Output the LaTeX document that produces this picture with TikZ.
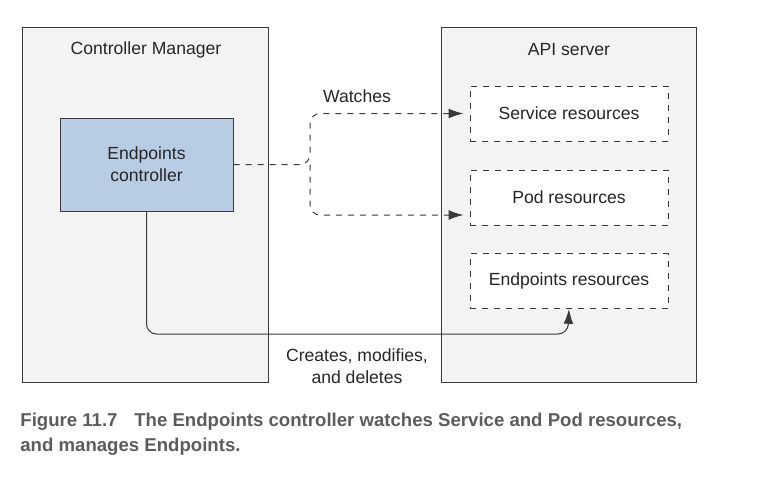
\documentclass[tikz,border=0pt]{standalone}
\usepackage{fontspec}
\setmainfont{Liberation Sans}
\usetikzlibrary{arrows.meta}

\definecolor{boxgrey}{HTML}{F3F3F3}
\definecolor{ctrlblue}{HTML}{B8CCE4}
\definecolor{linegrey}{HTML}{3A3A3A}
\definecolor{capgrey}{HTML}{5C5C5C}

\begin{document}
\begin{tikzpicture}[x=0.5pt, y=0.5pt, every node/.style={font=\fontsize{8.8}{11}\selectfont, text=black!85}, >={Latex[length=2.6mm,width=1.7mm]},
	host/.style={draw=linegrey, fill=boxgrey, line width=0.5pt, minimum width=123pt, minimum height=177.5pt, inner sep=0pt},
	res/.style={draw=linegrey, dashed, fill=white, line width=0.5pt, minimum width=99pt, minimum height=27.5pt, inner sep=0pt}]
	\useasboundingbox (0,0) rectangle (760,484);
	\node[host] (CM) at (145,279.5) {};
	\node[host, minimum width=127.5pt] (API) at (568.5,279.5) {};
	\node at (146,434) {Controller Manager};
	\node at (569,434) {API server};
	\node[draw=linegrey, fill=ctrlblue, line width=0.5pt, minimum width=86.5pt, minimum height=46.5pt, align=center] (EC) at (146.5,319.5) {Endpoints\\controller};
	\node[res] (SR) at (569,370.5) {Service resources};
	\node[res] (PR) at (569,286.5) {Pod resources};
	\node[res] (ER) at (569,203) {Endpoints resources};
	\coordinate (J) at (310,319.5);
	\coordinate (K) at (568,150);
	\draw[->, dashed, linegrey, line width=0.5pt, rounded corners=5pt, shorten >=3pt] (EC.east) -- (J) |- (SR.west);
	\draw[->, dashed, linegrey, line width=0.5pt, rounded corners=5pt, shorten >=3pt] (J) |- ([yshift=-8.75pt]PR.west);
	\draw[->, linegrey, line width=0.5pt, rounded corners=5pt] (EC.south) |- (K) -- (ER.south);
	\node at (357,388) {Watches};
	\node[align=center] at (357,118) {Creates, modifies,\\and deletes};
	\node[anchor=north west, align=left, inner sep=0pt, text=capgrey, font=\bfseries\fontsize{9.3}{12.5}\selectfont] (CAP) at (20,71) {Figure 11.7\hspace{0.9em}The Endpoints controller watches Service and Pod resources,\\and manages Endpoints.};
\end{tikzpicture}
\end{document}
